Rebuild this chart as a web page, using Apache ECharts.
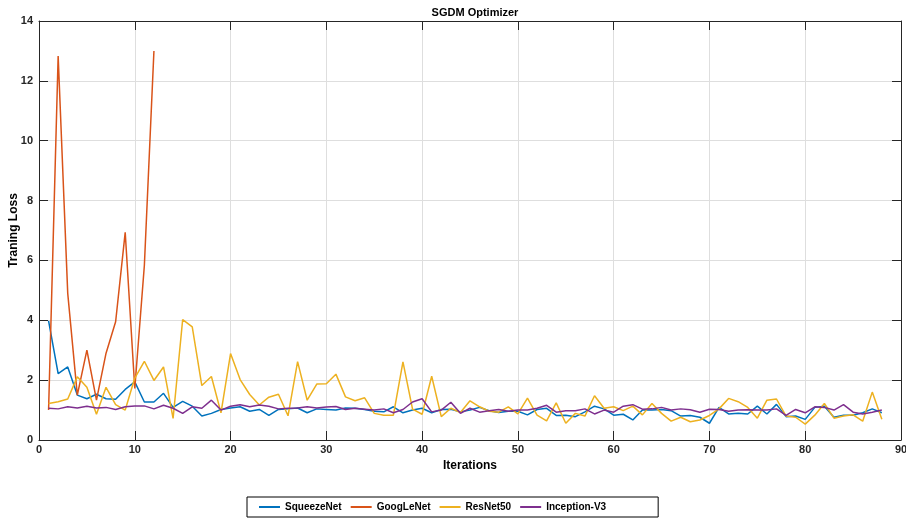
<!DOCTYPE html>
<html>
<head>
<meta charset="utf-8">
<script src="https://cdn.jsdelivr.net/npm/echarts@6/dist/echarts.min.js"></script>
<style>
  html, body { margin: 0; padding: 0; background: #fff; }
  #chart { width: 906px; height: 522px; }
</style>
</head>
<body>
<div id="chart"></div>
<script>
// Training loss per iteration for each network (iterations start at 1)
const seriesNames = ['SqueezeNet', 'GoogLeNet', 'ResNet50', 'Inception-V3'];

const squeezeNet = [
  3.98, 2.22, 2.44, 1.50, 1.38, 1.53, 1.38, 1.36, 1.69, 1.94,
  1.27, 1.27, 1.56, 1.09, 1.29, 1.13, 0.80, 0.89, 1.02, 1.07,
  1.11, 0.96, 1.02, 0.82, 1.02, 1.04, 1.07, 0.91, 1.04, 1.02,
  1.00, 1.07, 1.06, 1.02, 0.96, 0.94, 1.11, 0.91, 1.00, 1.06,
  0.91, 1.02, 1.03, 0.94, 1.00, 1.09, 0.98, 0.92, 0.96, 0.96,
  0.84, 1.02, 1.06, 0.82, 0.83, 0.78, 0.94, 1.13, 1.04, 0.83,
  0.86, 0.67, 1.00, 1.00, 1.02, 0.98, 0.80, 0.82, 0.76, 0.56,
  1.09, 0.87, 0.89, 0.87, 1.13, 0.87, 1.19, 0.78, 0.80, 0.69,
  1.09, 1.13, 0.76, 0.83, 0.83, 0.91, 1.04, 0.91
];

const googLeNet = [
  1.00, 12.83, 4.90, 1.50, 3.00, 1.33, 2.90, 3.95, 6.94, 1.72,
  5.83, 13.00
];

const resNet50 = [
  1.22, 1.28, 1.37, 2.11, 1.76, 0.86, 1.76, 1.18, 1.00, 2.07,
  2.63, 1.99, 2.44, 0.72, 4.02, 3.78, 1.82, 2.12, 0.91, 2.89,
  2.02, 1.52, 1.17, 1.43, 1.53, 0.81, 2.62, 1.33, 1.87, 1.88,
  2.20, 1.44, 1.31, 1.41, 0.89, 0.83, 0.83, 2.61, 1.03, 0.86,
  2.13, 0.78, 1.06, 0.92, 1.31, 1.11, 0.96, 0.93, 1.11, 0.87,
  1.40, 0.83, 0.64, 1.24, 0.56, 0.89, 0.80, 1.48, 1.06, 1.11,
  0.98, 1.13, 0.84, 1.22, 0.89, 0.63, 0.76, 0.61, 0.67, 0.82,
  1.04, 1.39, 1.28, 1.09, 0.73, 1.33, 1.37, 0.80, 0.76, 0.53,
  0.83, 1.22, 0.73, 0.80, 0.84, 0.63, 1.60, 0.69
];

const inceptionV3 = [
  1.06, 1.04, 1.11, 1.07, 1.13, 1.07, 1.09, 1.02, 1.11, 1.14,
  1.14, 1.04, 1.16, 1.06, 0.89, 1.11, 1.06, 1.33, 1.00, 1.13,
  1.18, 1.11, 1.17, 1.13, 1.04, 1.06, 1.07, 1.11, 1.07, 1.10,
  1.12, 1.02, 1.06, 1.03, 1.00, 1.04, 0.91, 1.02, 1.27, 1.38,
  0.94, 1.00, 1.26, 0.89, 1.06, 0.93, 0.98, 1.02, 0.96, 1.00,
  1.00, 1.06, 1.16, 0.93, 0.98, 0.98, 1.04, 0.87, 1.00, 0.93,
  1.13, 1.18, 1.03, 1.04, 1.09, 1.00, 1.04, 1.01, 0.93, 1.03,
  1.02, 0.96, 1.00, 1.01, 1.00, 1.00, 1.04, 0.82, 1.02, 0.91,
  1.11, 1.09, 1.00, 1.18, 0.93, 0.87, 0.93, 1.00
];

const seriesColors = ['#0072BD', '#D95319', '#EDB120', '#7E2F8E'];
const xTicks = [0, 10, 20, 30, 40, 50, 60, 70, 80, 90];
const yTicks = [0, 2, 4, 6, 8, 10, 12, 14];

const font = 'Liberation Sans, Arial, Helvetica, sans-serif';

function toPoints(values) {
  return values.map((v, i) => [i + 1, v]);
}

const allValues = [squeezeNet, googLeNet, resNet50, inceptionV3];

const chart = echarts.init(document.getElementById('chart'), null, { renderer: 'canvas' });

const axisLine = { show: true, onZero: false, lineStyle: { color: '#262626', width: 1 } };
const tickStyle = { show: true, inside: true, length: 9, lineStyle: { color: '#262626', width: 1 } };
const gridLine = { show: true, lineStyle: { color: '#dedede', width: 1 } };

chart.setOption({
  animation: false,
  backgroundColor: '#ffffff',
  title: {
    text: 'SGDM Optimizer',
    left: 470,
    top: 2,
    textAlign: 'center',
    textStyle: { fontFamily: font, fontSize: 11, fontWeight: 'bold', color: '#000' }
  },
  legend: {
    data: seriesNames,
    left: 247,
    top: 497,
    padding: [5, 52, 5, 12],
    itemGap: 9,
    itemWidth: 21,
    itemHeight: 2,
    icon: 'rect',
    borderColor: '#000',
    borderWidth: 1,
    textStyle: { fontFamily: font, fontSize: 10, fontWeight: 'bold', color: '#000' }
  },
  grid: { left: 39, right: 5, top: 21, bottom: 82, containLabel: false, outerBoundsMode: 'none' },
  xAxis: [
    {
      type: 'value', min: xTicks[0], max: xTicks[xTicks.length - 1], interval: 10,
      name: 'Iterations', nameLocation: 'middle', nameGap: 20, nameMoveOverlap: false,
      nameTextStyle: { fontFamily: font, fontSize: 12, fontWeight: 'bold', color: '#000' },
      axisLine: axisLine, axisTick: tickStyle, splitLine: gridLine,
      axisLabel: { fontFamily: font, fontSize: 11, fontWeight: 'bold', color: '#262626', margin: 4 }
    },
    {
      type: 'value', position: 'top', min: 0, max: 90, interval: 10,
      axisLine: axisLine, axisTick: tickStyle, splitLine: { show: false },
      axisLabel: { show: false }
    }
  ],
  yAxis: [
    {
      type: 'value', min: yTicks[0], max: yTicks[yTicks.length - 1], interval: 2,
      name: 'Traning Loss', nameLocation: 'middle', nameGap: 19, nameMoveOverlap: false,
      nameTextStyle: { fontFamily: font, fontSize: 12, fontWeight: 'bold', color: '#000' },
      axisLine: axisLine, axisTick: tickStyle, splitLine: gridLine,
      axisLabel: { fontFamily: font, fontSize: 11, fontWeight: 'bold', color: '#262626', margin: 6 }
    },
    {
      type: 'value', position: 'right', min: 0, max: 14, interval: 2,
      axisLine: axisLine, axisTick: tickStyle, splitLine: { show: false },
      axisLabel: { show: false }
    }
  ],
  series: seriesNames.map((name, k) => ({
    name: name,
    type: 'line',
    data: toPoints(allValues[k]),
    showSymbol: false,
    symbol: 'none',
    lineStyle: { color: seriesColors[k], width: 1.5 },
    itemStyle: { color: seriesColors[k] },
    z: 2 + k
  }))
});
</script>
</body>
</html>
